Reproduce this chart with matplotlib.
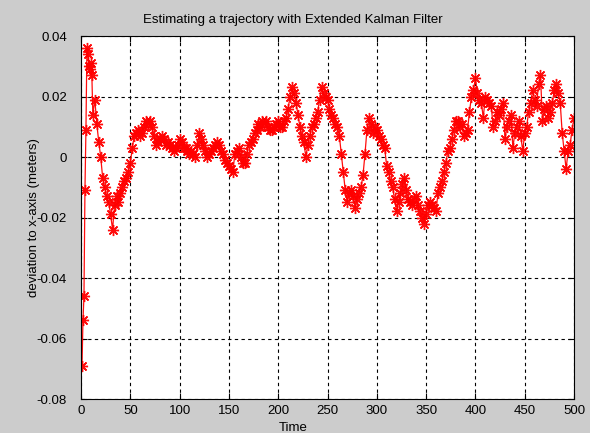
import numpy as np
import matplotlib
matplotlib.use("Agg")
import matplotlib.pyplot as plt

plt.rcParams['font.family'] = ['Liberation Sans', 'DejaVu Sans']

# time steps: every step at the start, then every second step
time = list(range(1, 13)) + list(range(14, 501, 2))

# estimated deviation (meters)
devStart = [-0.069, -0.054, -0.046, -0.011, 0.009, 0.036, 0.034, 0.030, 0.029, 0.031, 0.027, 0.014]
dev = [
    0.019, 0.011, 0.005, 0.000, -0.007, -0.010, -0.013, -0.015, -0.019, -0.024,    # 14-32
    -0.016, -0.013, -0.015, -0.012, -0.010, -0.008, -0.007, -0.005, -0.002, 0.003,  # 34-52
    0.007, 0.008, 0.009, 0.007, 0.008, 0.010, 0.012, 0.011, 0.012, 0.010,          # 54-72
    0.007, 0.004, 0.005, 0.006, 0.007, 0.006, 0.004, 0.005, 0.004, 0.003,          # 74-92
    0.002, 0.003, 0.004, 0.006, 0.005, 0.003, 0.003, 0.002, 0.001, 0.002,          # 94-112
    0.001, 0.000, 0.004, 0.008, 0.006, 0.004, 0.002, 0.000, 0.001, 0.002,          # 114-132
    0.003, 0.004, 0.005, 0.004, 0.002, 0.001, -0.001, -0.002, -0.003, -0.004,      # 134-152
    -0.005, 0.001, 0.002, 0.003, 0.000, -0.002, -0.002, 0.001, 0.004, 0.005,       # 154-172
    0.006, 0.008, 0.009, 0.011, 0.010, 0.012, 0.011, 0.012, 0.010, 0.009,          # 174-192
    0.009, 0.010, 0.011, 0.012, 0.010, 0.010, 0.012, 0.013, 0.016, 0.020,          # 194-212
    0.023, 0.021, 0.018, 0.014, 0.010, 0.007, 0.005, 0.000, 0.004, 0.007,          # 214-232
    0.010, 0.011, 0.013, 0.015, 0.019, 0.023, 0.021, 0.020, 0.019, 0.016,          # 234-252
    0.014, 0.013, 0.011, 0.010, 0.007, 0.001, -0.005, -0.011, -0.015, -0.012,      # 254-272
    -0.011, -0.013, -0.017, -0.014, -0.012, -0.010, -0.006, 0.001, 0.009, 0.013,   # 274-292
    0.011, 0.008, 0.010, 0.009, 0.007, 0.006, 0.004, 0.003, -0.003, -0.005,        # 294-312
    -0.008, -0.010, -0.014, -0.018, -0.015, -0.012, -0.009, -0.007, -0.011, -0.014, # 314-332
    -0.015, -0.016, -0.014, -0.013, -0.016, -0.018, -0.020, -0.022, -0.019, -0.016, # 334-352
    -0.015, -0.016, -0.017, -0.018, -0.012, -0.010, -0.008, -0.005, -0.002, 0.002,  # 354-372
    0.003, 0.006, 0.009, 0.012, 0.012, 0.010, 0.011, 0.007, 0.008, 0.009,          # 374-392
    0.015, 0.020, 0.022, 0.026, 0.021, 0.019, 0.018, 0.013, 0.020, 0.019,          # 394-412
    0.018, 0.017, 0.010, 0.012, 0.015, 0.014, 0.016, 0.018, 0.006, 0.010,          # 414-432
    0.012, 0.014, 0.003, 0.008, 0.010, 0.012, 0.007, 0.002, 0.008, 0.010,          # 434-452
    0.015, 0.018, 0.022, 0.019, 0.017, 0.024, 0.027, 0.012, 0.016, 0.017,          # 454-472
    0.013, 0.015, 0.018, 0.022, 0.024, 0.021, 0.018, 0.008, 0.002, -0.004,         # 474-492
    0.002, 0.004, 0.009, 0.013,                                                    # 494-500
]
deviation = devStart + dev

xTicks = list(range(0, 501, 50))
yTicks = [-0.08, -0.06, -0.04, -0.02, 0, 0.02, 0.04]
yTickLabels = ["-0.08", "-0.06", "-0.04", "-0.02", "0", "0.02", "0.04"]

fig = plt.figure(figsize=(5.9, 4.33), dpi=100, facecolor="#cccccc")
ax = fig.add_axes([0.1373, 0.0785, 0.8356, 0.8383])
ax.set_facecolor("white")

ax.plot(time, deviation, color="red", linewidth=0.9,
        marker=(8, 2, 0), markersize=8, markeredgewidth=1.0,
        markeredgecolor="red", alpha=0.95)

ax.set_xlim(0, 500)
ax.set_ylim(-0.08, 0.04)
ax.set_xticks(xTicks)
ax.set_yticks(yTicks)
ax.set_yticklabels(yTickLabels)
ax.tick_params(direction="in", labelsize=9.5, length=4, top=True, right=True)
ax.tick_params(axis="y", pad=10)
ax.tick_params(axis="x", pad=4)
ax.grid(True, color="black", linestyle=(0, (3, 3)), linewidth=0.8)
for s in ax.spines.values():
    s.set_color("black")
    s.set_linewidth(0.8)

# title and x label sit centred on the original (wider) figure, not on the axes
fig.text(293 / 590, 1 - 20 / 433, "Estimating a trajectory with Extended Kalman Filter",
         fontsize=9.5, ha="center", va="center")
fig.text(293 / 590, 1 - 428 / 433, "Time", fontsize=9.5, ha="center", va="center")
ax.set_ylabel("deviation to x-axis (meters)", fontsize=9.5, labelpad=-2)

fig.savefig("out.png", dpi=100, facecolor=fig.get_facecolor())
